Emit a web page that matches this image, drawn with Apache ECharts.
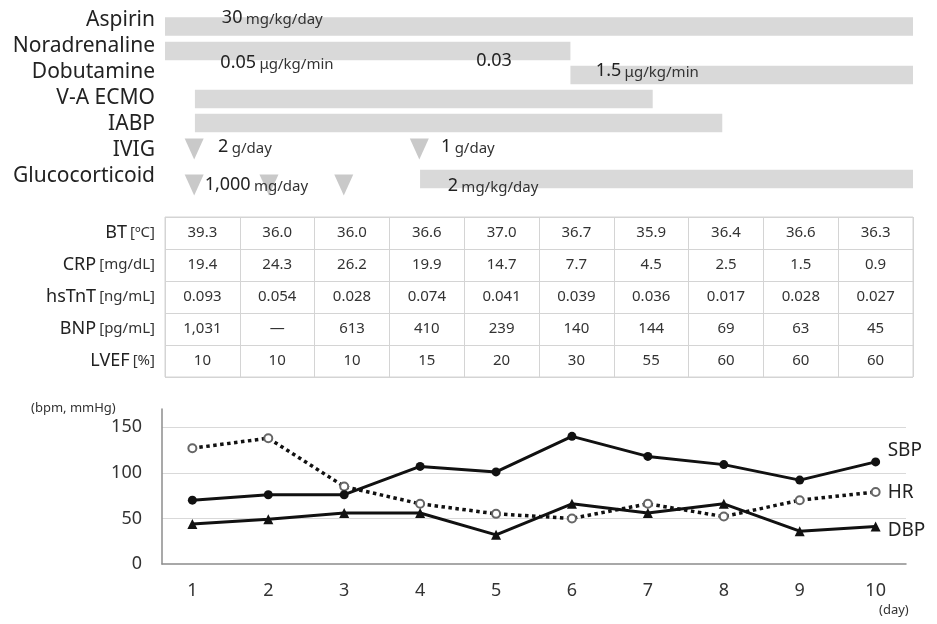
<!DOCTYPE html>
<html><head><meta charset="utf-8">
<script src="https://cdn.jsdelivr.net/npm/echarts@6/dist/echarts.min.js"></script>
<style>html,body{margin:0;padding:0;background:#fff}#c{width:937px;height:624px}</style>
</head><body><div id="c"></div>
<script>
// ---------- data ----------
const treatments = ['Aspirin','Noradrenaline','Dobutamine','V-A ECMO','IABP','IVIG','Glucocorticoid'];
// continuous administration: [rowIndex, startDay, endDay]  (0 = start of day 1, 10 = end of day 10)
const infusionSpans = [[0,0,10],[1,0,5.42],[2,5.42,10],[3,0.4,6.52],[4,0.4,7.45],[6,3.41,10]];
// bolus doses: [rowIndex, day]
const bolusDoses = [[5,0.39],[5,3.4],[6,0.39],[6,1.39],[6,2.39]];
// dose annotations: [day, rowPosition, amount, unit]
const doseLabels = [
  [0.76,-0.08,'30','mg/kg/day'],
  [0.74,1.65,'0.05','μg/kg/min'],
  [4.16,1.58,'0.03',''],
  [5.76,1.96,'1.5','μg/kg/min'],
  [0.71,4.88,'2','g/day'],
  [3.69,4.88,'1','g/day'],
  [0.53,6.35,'1,000','mg/day'],
  [3.78,6.38,'2','mg/kg/day']
];

const days = [1,2,3,4,5,6,7,8,9,10];
const labNames = ['BT','CRP','hsTnT','BNP','LVEF'];
const labUnits = ['[ºC]','[mg/dL]','[ng/mL]','[pg/mL]','[%]'];
const BT    = ['39.3','36.0','36.0','36.6','37.0','36.7','35.9','36.4','36.6','36.3'];
const CRP   = ['19.4','24.3','26.2','19.9','14.7','7.7','4.5','2.5','1.5','0.9'];
const hsTnT = ['0.093','0.054','0.028','0.074','0.041','0.039','0.036','0.017','0.028','0.027'];
const BNP   = ['1,031','—','613','410','239','140','144','69','63','45'];
const LVEF  = ['10','10','10','15','20','30','55','60','60','60'];

const SBP = [70,76,76,107,101,140,118,109,92,112];
const HR  = [127,138,85,66,55,50,66,52,70,79];
const DBP = [44,49,56,56,32,66,56,66,36,41];
const yGridValues = [50,100,150];

// ---------- styling constants ----------
const FONT = '"Noto Sans", sans-serif';
const barShift = [6.5,5,3,1,-1,-1,3];
const triShift = [0,0,0,0,0,-1,9];
const GRAY_BAR = '#d9d9d9';
const GRAY_TRI = '#c9c9c9';

const labTable = [BT, CRP, hsTnT, BNP, LVEF];
const tableCells = [];
labTable.forEach((row, r) => row.forEach((v, c) => tableCells.push([c, r])));

const chart = echarts.init(document.getElementById('c'), null, {renderer: 'canvas'});

const option = {
  animation: false,
  textStyle: {fontFamily: FONT},
  grid: [
    {left: 165, width: 748, top: 7, height: 182},
    {left: 165, width: 748, top: 217, height: 160, show: true, borderColor: '#d4d4d4', borderWidth: 1},
    {left: 162, right: 31, top: 409, bottom: 60}
  ],
  xAxis: [
    {gridIndex: 0, type: 'value', min: 0, max: 10, show: false},
    {gridIndex: 1, type: 'category', data: days, boundaryGap: true,
     axisLine: {show: false}, axisTick: {show: false}, axisLabel: {show: false},
     splitLine: {show: true, interval: 0, lineStyle: {color: '#d4d4d4', width: 1}}},
    {gridIndex: 2, type: 'value', min: 0.6, max: 10.4,
     axisLine: {show: true, lineStyle: {color: '#8c8c8c', width: 1.5}},
     axisTick: {show: false},
     splitLine: {show: false},
     axisLabel: {customValues: days, fontSize: 18, color: '#333', margin: 18, fontFamily: FONT}}
  ],
  yAxis: [
    {gridIndex: 0, type: 'category', data: treatments, inverse: true,
     axisLine: {show: false}, axisTick: {show: false}, splitLine: {show: false},
     axisLabel: {interval: 0, fontSize: 21, color: '#222', margin: 10, fontFamily: FONT}},
    {gridIndex: 1, type: 'category', data: labNames, inverse: true,
     axisLine: {show: false}, axisTick: {show: false},
     splitLine: {show: true, interval: 0, lineStyle: {color: '#d4d4d4', width: 1}},
     axisLabel: {interval: 0, margin: 10, fontFamily: FONT,
       formatter: (v, i) => '{n|' + v + '} {u|' + labUnits[i] + '}',
       rich: {n: {fontSize: 18, color: '#222', fontFamily: FONT}, u: {fontSize: 15, color: '#333', fontFamily: FONT}}}},
    {gridIndex: 2, type: 'value', min: 0, max: 170, interval: 50,
     axisLine: {show: true, lineStyle: {color: '#8c8c8c', width: 1.5}},
     axisTick: {show: false}, splitLine: {show: false},
     axisLabel: {fontSize: 18, color: '#333', margin: 20, fontFamily: FONT,
       formatter: v => (v % 50 === 0 ? String(v) : '')}}
  ],
  graphic: [
    {type: 'text', left: 31, top: 402, style: {text: '(bpm, mmHg)', fontSize: 13, fill: '#333', fontFamily: FONT}},
    {type: 'text', left: 879, top: 604, style: {text: '(day)', fontSize: 13, fill: '#333', fontFamily: FONT}}
  ],
  series: [
    // infusion bars
    {type: 'custom', xAxisIndex: 0, yAxisIndex: 0, data: infusionSpans, encode: {x: [1, 2], y: 0},
     renderItem: (params, api) => {
       const row = api.value(0);
       const p0 = api.coord([api.value(1), row]);
       const p1 = api.coord([api.value(2), row]);
       const h = 18.5;
       const cy = p0[1] + barShift[row];
       return {type: 'rect', shape: {x: p0[0], y: cy - h / 2, width: p1[0] - p0[0], height: h},
               style: {fill: GRAY_BAR}};
     }},
    // bolus triangles
    {type: 'custom', xAxisIndex: 0, yAxisIndex: 0, data: bolusDoses, encode: {x: 1, y: 0},
     renderItem: (params, api) => {
       const row = api.value(0);
       const p = api.coord([api.value(1), row]);
       const cy = p[1] + triShift[row];
       const w = 19, h = 21;
       return {type: 'polygon', shape: {points: [[p[0] - w / 2, cy - h / 2], [p[0] + w / 2, cy - h / 2], [p[0], cy + h / 2]]},
               style: {fill: GRAY_TRI}};
     }},
    // dose annotations
    {type: 'custom', xAxisIndex: 0, yAxisIndex: 0, data: doseLabels.map(d => [d[0], 0, d[1], d[2], d[3]]),
     encode: {x: 0, y: 1}, z: 5,
     renderItem: (params, api) => {
       const d = doseLabels[params.dataIndex];
       const base = api.coord([d[0], 0]);
       const rowH = api.size([0, 1])[1];
       const y = base[1] + d[1] * rowH;
       const txt = '{n|' + d[2] + '}' + (d[3] ? ' {u|' + d[3] + '}' : '');
       return {type: 'text', x: base[0], y: y,
               style: {text: txt, align: 'left', verticalAlign: 'middle',
                       rich: {n: {fontSize: 18, fill: '#222', fontFamily: FONT, verticalAlign: 'bottom'},
                              u: {fontSize: 15, fill: '#333', fontFamily: FONT, verticalAlign: 'bottom'}}}};
     }},
    // lab table text
    {type: 'custom', xAxisIndex: 1, yAxisIndex: 1, data: tableCells, encode: {x: 0, y: 1},
     renderItem: (params, api) => {
       const c = api.value(0), r = api.value(1);
       const p = api.coord([c, r]);
       return {type: 'text', x: p[0], y: p[1],
               style: {text: labTable[r][c], align: 'center', verticalAlign: 'middle',
                       fontSize: 15, fill: '#333', fontFamily: FONT}};
     }},
    // vitals
    {name: 'SBP', type: 'line', xAxisIndex: 2, yAxisIndex: 2, data: SBP.map((v, i) => [days[i], v]),
     symbol: 'circle', symbolSize: 9, z: 4,
     lineStyle: {color: '#111', width: 3}, itemStyle: {color: '#111'},
     endLabel: {show: true, formatter: '{a}', distance: 12, offset: [0, -11], fontSize: 19, color: '#222', fontFamily: FONT},
     markLine: {silent: true, symbol: ['none', 'none'], z: 0, label: {show: false},
       lineStyle: {color: '#d9d9d9', type: 'solid', width: 1},
       data: yGridValues.map(v => ({yAxis: v}))}},
    {name: 'HR', type: 'line', xAxisIndex: 2, yAxisIndex: 2, data: HR.map((v, i) => [days[i], v]),
     symbol: 'emptyCircle', symbolSize: 8, z: 3,
     lineStyle: {color: '#111', width: 3.5, type: [3.5, 3.5]},
     itemStyle: {color: '#666', borderColor: '#666', borderWidth: 1.1},
     endLabel: {show: true, formatter: '{a}', distance: 12, offset: [0, 1], fontSize: 19, color: '#222', fontFamily: FONT}},
    {name: 'DBP', type: 'line', xAxisIndex: 2, yAxisIndex: 2, data: DBP.map((v, i) => [days[i], v]),
     symbol: 'triangle', symbolSize: 10, z: 4,
     lineStyle: {color: '#111', width: 3}, itemStyle: {color: '#111'},
     endLabel: {show: true, formatter: '{a}', distance: 12, offset: [0, 4], fontSize: 19, color: '#222', fontFamily: FONT}}
  ]
};
chart.setOption(option);
</script>
</body></html>
